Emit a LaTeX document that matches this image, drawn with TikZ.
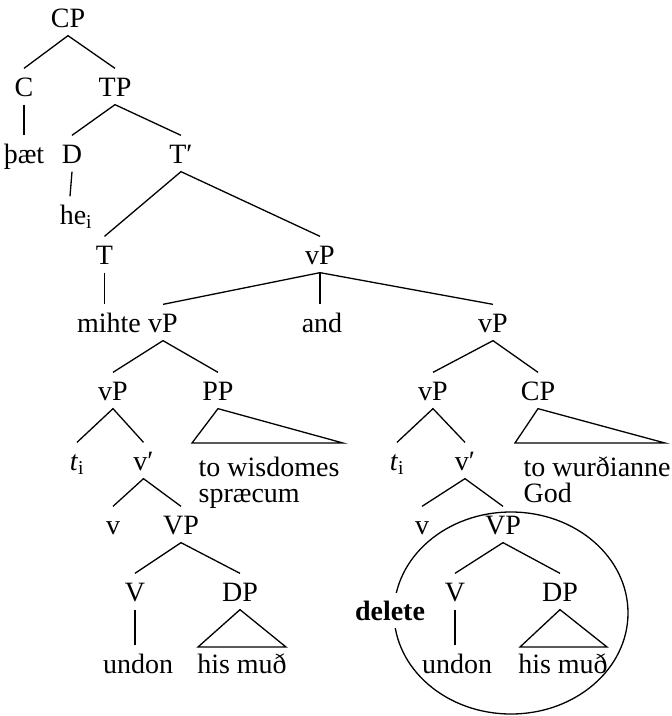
\documentclass[tikz,border=0pt]{standalone}
\usepackage{fontspec}
\setmainfont{Liberation Serif}
\begin{document}
\begin{tikzpicture}[x=1pt,y=-1pt,
  font=\fontsize{28}{30}\selectfont,
  line width=1.3pt,
  tn/.style={anchor=base, inner xsep=0pt, inner ysep=8pt, text height=19pt, text depth=0pt},
  wl/.style={anchor=north west, inner sep=0pt, align=left, font=\fontsize{28}{26}\selectfont}]
\useasboundingbox (0,0) rectangle (672,716);

% ---- nodes ----
\node[tn] (CP)   at (68,27)   {CP};
\node[tn] (C)    at (24,96)   {C};
\node[tn] (TP)   at (115,96)  {TP};
\node[tn] (thaet) at (24,163) {þæt};
\node[tn] (D)    at (72,163)  {D};
\node[tn] (Tbar) at (181,163) {T′};
\node[tn] (he)   at (76,224)  {he\textsubscript{i}};
\node[tn] (T)    at (104.5,264) {T};
\node[tn] (vPtop) at (320,264) {vP};
\node[tn] (mihte) at (109,332) {mihte};
\node[tn] (vPa)  at (163,332) {vP};
\node[tn] (and)  at (322,332) {and};
\node[tn] (vPb)  at (493,332) {vP};
\node[tn] (vPc)  at (113,400) {vP};
\node[tn] (PP)   at (218,400) {PP};
\node[tn] (vPd)  at (433,400) {vP};
\node[tn] (CPb)  at (538,400) {CP};
\node[tn] (ta)   at (77,470)  {\textit{t}\textsubscript{i}};
\node[tn] (vba)  at (143.5,470) {v′};
\node[tn] (tb)   at (397,470) {\textit{t}\textsubscript{i}};
\node[tn] (vbb)  at (465,470) {v′};
\node[tn] (va)   at (113,534) {v};
\node[tn] (VPa)  at (181,534) {VP};
\node[tn] (vb)   at (422,534) {v};
\node[tn] (VPb)  at (503,534) {VP};
\node[tn] (Va)   at (135,601) {V};
\node[tn] (DPa)  at (240,601) {DP};
\node[tn] (Vb)   at (455,601) {V};
\node[tn] (DPb)  at (560,601) {DP};
\node[tn] (undona) at (138,673) {undon};
\node[tn] (hisa)   at (242,673) {his muð};
\node[tn] (undonb) at (457,673) {undon};
\node[tn] (hisb)   at (563,673) {his muð};
\node[wl] (wis) at (198,456) {to wisdomes\\spræcum};
\node[wl] (wur) at (523,456) {to wurðianne\\God};

% ---- triangle corners ----
\coordinate (ppL) at (192,443);  \coordinate (ppR) at (343,443);
\coordinate (cpL) at (515,443);  \coordinate (cpR) at (665,443);
\coordinate (daL) at (198,647);  \coordinate (daR) at (286,647);
\coordinate (dbL) at (520,647);  \coordinate (dbR) at (607,647);

% ---- edges ----
\draw (C.north) -- (CP.south) -- (TP.north);
\draw (C.south) -- (C.south |- thaet.north);
\draw (D.north) -- (TP.south) -- (Tbar.north);
\draw (D.south) -- ([xshift=-2pt]D.south |- he.north);
\draw (T.north) -- (Tbar.south) -- (vPtop.north);
\draw (T.south) -- (T.south |- mihte.north);
\draw (vPa.north) -- (vPtop.south) -- (vPb.north);
\draw (vPtop.south) -- (vPtop.south |- and.north);
\draw (vPc.north) -- (vPa.south) -- (PP.north);
\draw (vPd.north) -- (vPb.south) -- (CPb.north);
\draw (ta.north) -- (vPc.south) -- (vba.north);
\draw (tb.north) -- (vPd.south) -- (vbb.north);
\draw (va.north) -- (vba.south) -- (VPa.north);
\draw (vb.north) -- (vbb.south) -- (VPb.north);
\draw (Va.north) -- (VPa.south) -- (DPa.north);
\draw (Vb.north) -- (VPb.south) -- (DPb.north);
\draw (Va.south) -- (Va.south |- undona.north);
\draw (Vb.south) -- (Vb.south |- undonb.north);

% ---- triangles ----
\draw[line join=miter] (PP.south) -- (ppL) -- (ppR) -- cycle;
\draw[line join=miter] (CPb.south) -- (cpL) -- (cpR) -- cycle;
\draw[line join=miter] (DPa.south) -- (daL) -- (daR) -- cycle;
\draw[line join=miter] (DPb.south) -- (dbL) -- (dbR) -- cycle;

% ---- deletion ellipse ----
\draw (511,613) ellipse [x radius=117pt, y radius=101pt];
\node[anchor=base, fill=white, inner xsep=2pt, inner ysep=8pt] (del) at (390,620) {\textbf{delete}};
\end{tikzpicture}
\end{document}
